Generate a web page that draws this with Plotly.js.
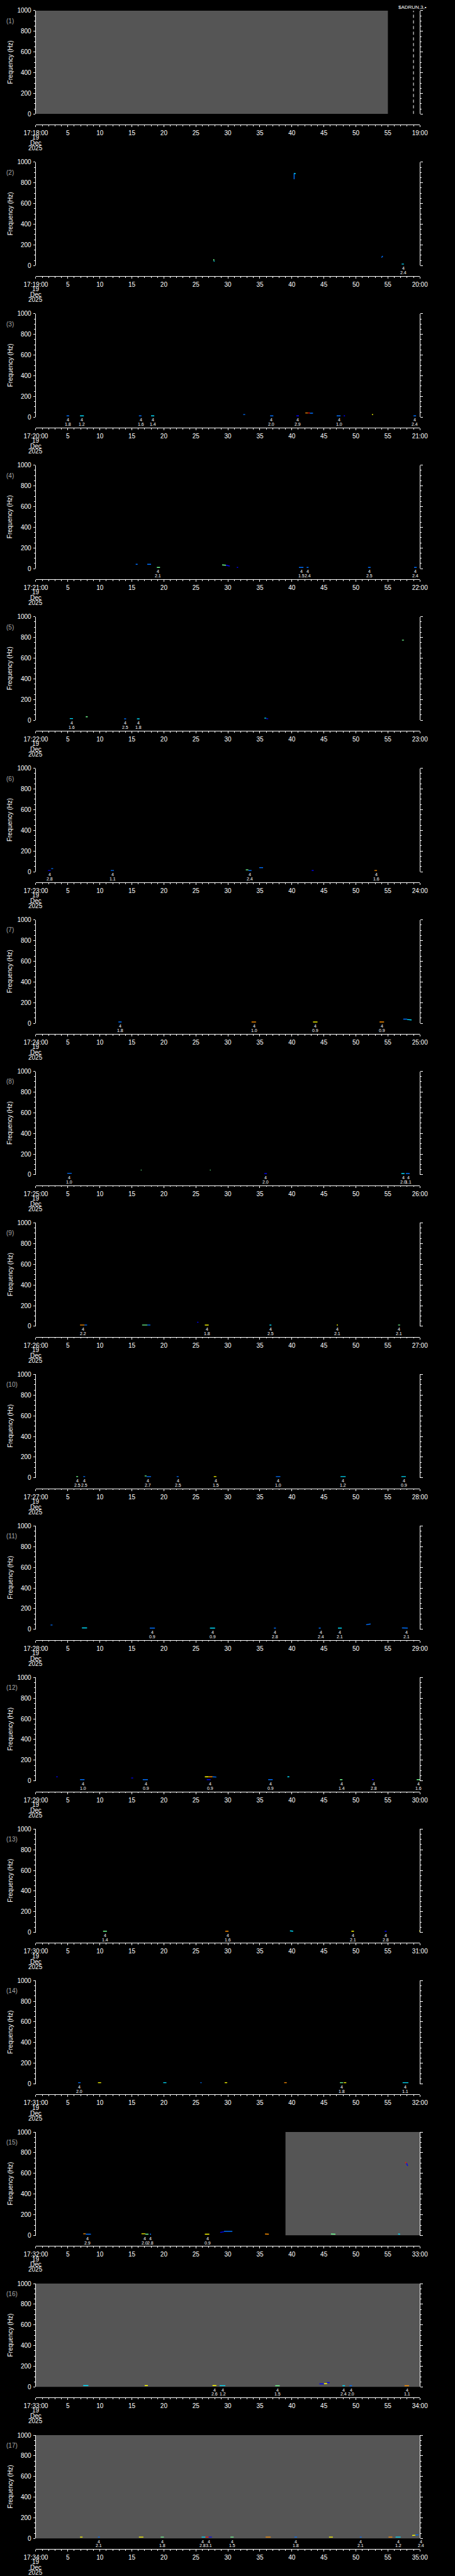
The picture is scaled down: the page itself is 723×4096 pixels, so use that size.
<!DOCTYPE html>
<html><head><meta charset="utf-8">
<script src="https://cdn.plot.ly/plotly-3.0.1.min.js"></script>
<style>html,body{margin:0;padding:0;background:#000;overflow:hidden}</style>
</head><body><div id="chart" style="width:723px;height:4096px"></div>
<script>
// ---------- data ----------
const tickSeconds = [0,5,10,15,20,25,30,35,40,45,50,55,60];
const midTickLabels = ["5","10","15","20","25","30","35","40","45","50","55"];
const startLabels = ["17:18:00","17:19:00","17:20:00","17:21:00","17:22:00","17:23:00","17:24:00","17:25:00","17:26:00","17:27:00","17:28:00","17:29:00","17:30:00","17:31:00","17:32:00","17:33:00","17:34:00"];
const endLabels = ["19:00","20:00","21:00","22:00","23:00","24:00","25:00","26:00","27:00","28:00","29:00","30:00","31:00","32:00","33:00","34:00","35:00"];
const dateLines = ["19","Dec","2025"];
const freqTickVals = [0,200,400,600,800,1000];
const freqTickLabels = ["0","200","400","600","800","1000"];
const panelLabels = ["(1)","(2)","(3)","(4)","(5)","(6)","(7)","(8)","(9)","(10)","(11)","(12)","(13)","(14)","(15)","(16)","(17)"];
const freqTitle = "Frequency (Hz)";
const headerText = "$ADRUN,3,\u2022";
// gray (no data) regions: [panel, startSec, endSec]
const grayRegions = [[1,0,55],[15,39,60],[16,0,60],[17,0,60]];
// dashed marker line: [panel, second]
const dashedLines = [[1,59]];

// spectrogram fragments: [t0, t1, f0, f1, colourKey]
const frag1 = [];
const frag2 = [[40.35,40.35,835,893,'A'],[40.35,40.6,893,888,'C'],[27.8,27.8,48,62,'G'],[27.8,27.9,40,46,'C'],[54.0,54.2,78,93,'A'],[57.15,57.5,15,15,'C']];
const frag3 = [[4.8,5.2,12,12,'A'],[6.9,7.5,12,12,'C'],[16.1,16.5,12,12,'A'],[18.0,18.5,12,12,'C'],[32.4,32.7,25,25,'A'],[36.6,37.1,12,12,'A'],[40.7,41.1,12,12,'B'],[42.1,42.5,40,40,'O'],[42.5,42.8,40,40,'R'],[42.8,43.3,38,38,'A'],[47.0,47.6,12,12,'A'],[48.1,48.3,12,12,'B'],[52.5,52.7,25,25,'Y'],[59.0,59.4,12,12,'A']];
const frag4 = [[15.6,15.9,42,42,'A'],[17.4,18.0,42,42,'A'],[18.9,19.4,12,12,'G'],[29.1,29.7,36,33,'G'],[29.7,30.3,33,25,'B'],[31.4,31.6,12,12,'B'],[41.1,41.8,12,12,'A'],[42.3,42.6,12,12,'A'],[51.9,52.3,12,12,'A'],[59.1,59.5,12,12,'A']];
const frag5 = [[5.3,5.8,15,15,'C'],[7.8,8.1,33,33,'G'],[13.8,14.1,13,13,'A'],[15.8,16.2,13,13,'C'],[35.7,36.0,20,20,'C'],[36.0,36.3,14,14,'B'],[57.2,57.5,774,774,'G']];
const frag6 = [[1.9,2.3,12,12,'B'],[2.4,2.7,30,30,'A'],[11.7,12.2,12,12,'A'],[32.8,33.2,18,18,'G'],[33.2,33.7,12,12,'A'],[34.9,35.5,39,39,'A'],[43.1,43.4,12,12,'B'],[52.9,53.3,12,12,'O']];
const frag7 = [[12.9,13.4,12,12,'A'],[33.7,34.4,12,12,'O'],[43.3,44.0,12,12,'Y'],[53.7,54.4,12,12,'O'],[57.4,58.0,40,40,'A'],[58.0,58.7,36,32,'C']];
const frag8 = [[4.9,5.6,14,14,'A'],[16.4,16.5,45,45,'G'],[27.2,27.3,45,45,'G'],[35.7,36.1,12,12,'B'],[57.1,57.6,12,12,'C'],[57.8,58.4,12,12,'A']];
const frag9 = [[6.9,7.6,12,12,'O'],[7.6,8.0,12,12,'A'],[16.6,17.4,12,12,'G'],[17.4,17.9,12,12,'A'],[25.2,25.4,39,39,'B'],[26.4,27.0,12,12,'Y'],[36.5,36.8,12,12,'C'],[47.0,47.2,12,12,'Y'],[56.6,56.9,12,12,'G']];
const frag10 = [[6.3,6.6,12,12,'G'],[7.4,7.7,12,12,'A'],[17.0,17.3,18,18,'G'],[17.3,18.0,12,12,'A'],[22.0,22.3,12,12,'A'],[27.8,28.2,12,12,'Y'],[37.5,38.2,12,12,'A'],[47.6,48.4,12,12,'C'],[57.1,57.8,12,12,'C']];
const frag11 = [[2.3,2.6,42,42,'A'],[7.2,8.0,14,14,'C'],[17.8,18.6,12,12,'A'],[27.2,28.0,12,12,'C'],[37.2,37.5,12,12,'A'],[44.2,44.5,12,12,'A'],[47.2,47.8,12,12,'C'],[51.6,52.3,45,52,'A'],[57.2,58.1,14,12,'A']];
const frag12 = [[3.2,3.4,39,39,'B'],[6.9,7.6,12,12,'A'],[14.9,15.2,28,28,'B'],[16.7,17.5,12,12,'A'],[26.4,27.0,39,39,'Y'],[27.0,27.6,39,39,'O'],[27.6,28.2,39,37,'A'],[26.7,27.3,12,12,'B'],[36.3,37.0,12,12,'A'],[39.3,39.6,39,39,'C'],[47.5,47.9,12,12,'G'],[52.5,52.8,12,12,'B'],[59.5,60.0,12,12,'G']];
const frag13 = [[10.5,11.1,12,12,'G'],[29.6,30.1,12,12,'O'],[39.7,40.2,15,12,'C'],[49.3,49.7,12,12,'Y'],[54.5,54.8,12,12,'B'],[59.9,60.0,15,12,'Y']];
const frag14 = [[6.6,7.0,12,12,'A'],[9.7,10.2,12,12,'Y'],[19.9,20.4,12,12,'C'],[25.7,25.9,12,12,'A'],[29.5,29.9,12,12,'Y'],[38.8,39.2,12,12,'O'],[47.5,48.0,12,12,'G'],[48.1,48.5,12,12,'Y'],[57.3,58.2,12,12,'C']];
const frag15 = [[7.4,7.8,16,16,'O'],[7.8,8.6,12,12,'A'],[16.5,17.1,16,16,'Y'],[17.1,17.6,12,12,'G'],[17.8,18.0,12,12,'A'],[26.4,27.1,12,12,'Y'],[28.8,29.4,30,36,'B'],[29.4,30.7,40,40,'A'],[35.8,36.4,14,12,'O'],[46.1,46.8,14,12,'G'],[56.6,56.9,14,12,'C'],[57.7,57.9,709,700,'R'],[57.9,58.1,700,672,'B']];
const frag16 = [[7.4,8.2,14,14,'C'],[17.0,17.5,14,14,'Y'],[27.6,28.2,14,14,'Y'],[28.7,29.6,13,13,'C'],[37.4,38.1,12,12,'G'],[44.3,45.0,30,30,'B'],[45.0,45.5,32,33,'Y'],[45.5,45.9,42,42,'B'],[47.9,48.3,12,12,'C'],[49.0,49.4,12,12,'A'],[57.6,58.3,12,12,'O']];
const frag17 = [[6.9,7.3,14,14,'Y'],[9.7,10.0,14,14,'A'],[16.1,16.8,14,14,'Y'],[19.5,20.0,14,14,'G'],[25.9,26.5,14,14,'C'],[26.5,27.0,14,14,'R'],[27.0,27.5,14,14,'B'],[30.4,30.9,14,14,'G'],[35.9,36.7,14,14,'O'],[40.4,40.8,14,14,'A'],[45.8,46.4,14,14,'Y'],[50.6,50.9,14,14,'A'],[55.1,55.7,14,14,'O'],[56.2,57.0,14,14,'C'],[58.8,59.3,30,32,'Y'],[59.3,59.8,35,35,'A']];

// event labels under the plots: [second, line1, line2]
const lab1 = [];
const lab2 = [[57.4,'4','2.4']];
const lab3 = [[5.0,'4','1.8'],[7.2,'4','1.2'],[16.4,'4','1.6'],[18.3,'4','1.4'],[36.8,'4','2.0'],[40.9,'4','2.9'],[47.4,'4','1.0'],[59.2,'4','2.4']];
const lab4 = [[19.1,'4','2.1'],[41.5,'4','1.5'],[42.5,'4','2.4'],[52.1,'4','2.5'],[59.3,'4','2.4']];
const lab5 = [[5.6,'4','1.6'],[14.0,'4','2.5'],[16.0,'4','1.8']];
const lab6 = [[2.2,'4','2.8'],[12.0,'4','1.1'],[33.4,'4','2.4'],[53.2,'4','1.6']];
const lab7 = [[13.2,'4','1.8'],[34.1,'4','1.0'],[43.7,'4','0.9'],[54.1,'4','0.9']];
const lab8 = [[5.2,'4','1.0'],[35.9,'4','2.0'],[57.4,'4','2.0'],[58.2,'4','1.1']];
const lab9 = [[7.4,'4','2.2'],[26.7,'4','1.8'],[36.7,'4','2.5'],[47.1,'4','2.1'],[56.7,'4','2.1']];
const lab10 = [[6.5,'4','2.5'],[7.6,'4','2.5'],[17.5,'4','2.7'],[22.2,'4','2.5'],[28.1,'4','1.5'],[37.9,'4','1.0'],[48.0,'4','1.2'],[57.5,'4','0.9']];
const lab11 = [[18.2,'4','0.9'],[27.6,'4','0.9'],[37.4,'4','2.8'],[44.5,'4','2.4'],[47.5,'4','2.1'],[57.9,'4','2.1']];
const lab12 = [[7.4,'4','1.0'],[17.2,'4','0.9'],[27.2,'4','0.9'],[36.7,'4','0.9'],[47.8,'4','1.4'],[52.8,'4','2.8'],[59.8,'4','1.6']];
const lab13 = [[10.8,'4','1.4'],[30.0,'4','1.6'],[49.6,'4','2.1'],[54.7,'4','2.8']];
const lab14 = [[6.8,'4','2.0'],[47.8,'4','1.8'],[57.7,'4','1.1']];
const lab15 = [[8.1,'4','2.9'],[17.0,'4','2.0'],[17.9,'4','2.8'],[26.8,'4','0.9']];
const lab16 = [[27.9,'4','2.6'],[29.2,'4','1.2'],[37.8,'4','1.5'],[48.1,'4','2.4'],[49.3,'4','2.0'],[58.0,'4','1.1']];
const lab17 = [[9.8,'4','2.1'],[19.8,'4','1.8'],[26.1,'4','2.8'],[27.0,'4','3.1'],[30.7,'4','1.5'],[40.6,'4','1.8'],[50.7,'4','2.1'],[56.6,'4','1.2'],[60.2,'4','2.4']];

// ---------- style / layout constants ----------
const colourMap = {B:'#0000ff', A:'#0070ff', C:'#00e0ff', G:'#70ff90', Y:'#ffff00', O:'#ff9000', R:'#ff1000'};
const FONT = 'Liberation Sans, Arial, sans-serif';
const REF_W = 1024, REF_H = 5802, OUT_W = 723, OUT_H = 4096;
const KX = OUT_W/REF_W, KY = OUT_H/REF_H;
const STEP = REF_H/17, PLOT_TOP = 24, PLOT_BOT = 256.9, AXIS_Y = 280.7, PLOT_L = 80.7, PLOT_R = 945;
const T_MAX = 60;
const pyRef = r => 1 - r/REF_H;

const frags = [frag1,frag2,frag3,frag4,frag5,frag6,frag7,frag8,frag9,frag10,frag11,frag12,frag13,frag14,frag15,frag16,frag17];
const labs = [lab1,lab2,lab3,lab4,lab5,lab6,lab7,lab8,lab9,lab10,lab11,lab12,lab13,lab14,lab15,lab16,lab17];

const traces = [];
const annotations = [];
const layout = {
  width: OUT_W, height: OUT_H, margin:{l:0,r:0,t:0,b:0},
  paper_bgcolor:'#000', plot_bgcolor:'#000', showlegend:false,
  font:{family:FONT, color:'#fff', size:10},
  annotations: annotations
};
const pxPerSec = (PLOT_R-PLOT_L)*KX/T_MAX;

for (let k=0; k<17; k++) {
  const p = k+1;
  const xa = p===1 ? 'x' : 'x'+p, ya = p===1 ? 'y' : 'y'+p;
  const xk = p===1 ? 'xaxis' : 'xaxis'+p, yk = p===1 ? 'yaxis' : 'yaxis'+p;
  const top = PLOT_TOP + k*STEP, bot = PLOT_BOT + k*STEP, axy = AXIS_Y + k*STEP;
  layout[xk] = {
    domain:[PLOT_L/REF_W, PLOT_R/REF_W], anchor:'free', position: pyRef(axy),
    range:[0,T_MAX], tickmode:'array', tickvals: tickSeconds,
    ticktext:[startLabels[k], ...midTickLabels, endLabels[k]],
    ticks:'outside', ticklen:3, tickwidth:1, tickcolor:'#fff',
    showline:true, linecolor:'#fff', linewidth:1, showgrid:false, zeroline:false,
    tickfont:{family:FONT, size:10, color:'#fff'}, ticklabelstandoff:1,
    minor:{tickmode:'linear', tick0:0, dtick:1, ticks:'outside', ticklen:1.7, tickwidth:1, tickcolor:'#fff', showgrid:false},
    fixedrange:true
  };
  layout[yk] = {
    domain:[pyRef(bot), pyRef(top)], anchor: xa, range:[0,1000],
    tickmode:'array', tickvals: freqTickVals, ticktext: freqTickLabels,
    ticks:'outside', ticklen:3.3, tickwidth:1, tickcolor:'#fff',
    showline:true, mirror:'ticks', linecolor:'#fff', linewidth:1,
    showgrid:false, zeroline:false, ticklabelstandoff:1,
    tickfont:{family:FONT, size:10, color:'#fff'},
    minor:{tickmode:'linear', tick0:0, dtick:50, ticks:'outside', ticklen:1.9, tickwidth:1, tickcolor:'#fff', showgrid:false},
    fixedrange:true
  };
  // gray regions
  grayRegions.filter(g => g[0]===p).forEach(g => {
    traces.push({type:'scatter', mode:'lines', xaxis:xa, yaxis:ya,
      x:[g[1],g[2],g[2],g[1],g[1]], y:[0,0,1000,1000,0],
      fill:'toself', fillcolor:'#555555', line:{width:0, color:'#555555'}, hoverinfo:'skip'});
  });
  // dashed lines
  dashedLines.filter(d => d[0]===p).forEach(d => {
    traces.push({type:'scatter', mode:'lines', xaxis:xa, yaxis:ya,
      x:[d[1],d[1]], y:[0,1000], line:{color:'#fff', width:1, dash:'5px,4px'}, hoverinfo:'skip'});
  });
  // fragments grouped by colour
  const byC = {};
  frags[k].forEach(([t0,t1,f0,f1,c]) => {
    if (!byC[c]) byC[c] = {x:[], y:[]};
    byC[c].x.push(t0,t1,null); byC[c].y.push(f0,f1,null);
  });
  Object.keys(byC).forEach(c => {
    traces.push({type:'scatter', mode:'lines', xaxis:xa, yaxis:ya, x:byC[c].x, y:byC[c].y,
      line:{color:colourMap[c], width:1.4}, connectgaps:false, hoverinfo:'skip'});
  });
  // event labels
  labs[k].forEach(([t,l1,l2]) => {
    const xt = Math.min(t, T_MAX), xs = (t - xt)*pxPerSec;
    [[l1, -6.5], [l2, -16.3]].forEach(([txt, off]) => {
      annotations.push({xref:xa, yref:'paper', x:xt, xshift:xs, y:pyRef(bot), yshift: off*KY,
        text:txt, showarrow:false, xanchor:'center', yanchor:'middle',
        font:{family:FONT, size:7, color:'#fff'}});
    });
  });
  // date lines under first tick
  [53.1, 65.8, 77.1].forEach((off, i) => {
    annotations.push({xref:xa, yref:'paper', x:0, y:pyRef(bot), yshift:-off*KY,
      text:dateLines[i], showarrow:false, xanchor:'center', yanchor:'middle',
      font:{family:FONT, size:10, color:'#fff'}});
  });
  // panel label
  annotations.push({xref:'paper', yref:'paper', x:11.8/REF_W, y:pyRef(top+23.2),
    text:panelLabels[k], showarrow:false, xanchor:'left', yanchor:'middle',
    font:{family:FONT, size:10, color:'#a8a8a8'}});
  // frequency title
  annotations.push({xref:'paper', yref:'paper', x:23/REF_W, y:pyRef((top+bot)/2),
    text:freqTitle, textangle:-90, showarrow:false, xanchor:'center', yanchor:'middle',
    font:{family:FONT, size:10, color:'#fff'}});
}
annotations.push({xref:'paper', yref:'paper', x:929/REF_W, y:pyRef(15.7), text:headerText,
  showarrow:false, xanchor:'center', yanchor:'middle', font:{family:FONT, size:8, color:'#fff'}});

Plotly.newPlot('chart', traces, layout, {displayModeBar:false, staticPlot:true});
</script></body></html>
